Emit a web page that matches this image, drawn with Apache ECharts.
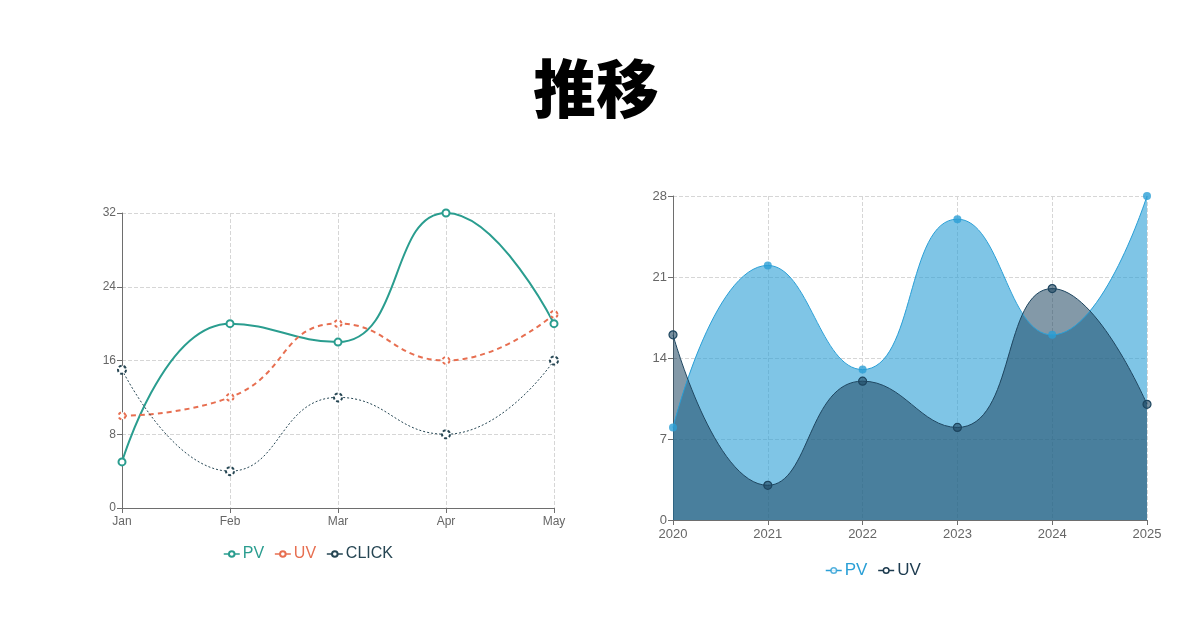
<!DOCTYPE html>
<html>
<head>
<meta charset="utf-8">
<script src="https://cdn.jsdelivr.net/npm/echarts@6/dist/echarts.min.js"></script>
<style>
  body { margin: 0; background: #fff; }
  #title { position: absolute; left: 0; top: 40px; width: 1192px; text-align: center;
           font-family: "Noto Sans CJK JP", sans-serif; font-weight: 900; font-size: 63px; line-height: 90px; color: #000; }
  #left { position: absolute; left: 0; top: 0; width: 600px; height: 630px; }
  #right { position: absolute; left: 600px; top: 0; width: 600px; height: 630px; }
</style>
</head>
<body>
<div id="title">推移</div>
<div id="left"></div>
<div id="right"></div>
<script>
// left chart data
const months = ['Jan', 'Feb', 'Mar', 'Apr', 'May'];
const pvMonth = [5, 20, 18, 32, 20];
const uvMonth = [10, 12, 20, 16, 21];
const clickMonth = [15, 4, 12, 8, 16];

// right chart data
const years = ['2020', '2021', '2022', '2023', '2024', '2025'];
const pvYear = [8, 22, 13, 26, 16, 28];
const uvYear = [16, 3, 12, 8, 20, 10];

const axisGray = '#6e6e6e';
const splitGray = '#d6d6d6';
const font = 'Liberation Sans, Arial, sans-serif';

function catAxis(data, size, margin) {
    return {
        type: 'category',
        data: data,
        boundaryGap: false,
        axisLine: { lineStyle: { color: axisGray } },
        axisTick: { lineStyle: { color: axisGray } },
        axisLabel: { color: '#666', fontSize: size, fontFamily: font, margin: margin },
        splitLine: { show: true, lineStyle: { color: splitGray, type: 'dashed' } }
    };
}
function valAxis(max, interval, size) {
    return {
        type: 'value',
        min: 0,
        max: max,
        interval: interval,
        axisLine: { show: true, lineStyle: { color: axisGray } },
        axisTick: { show: true, lineStyle: { color: axisGray } },
        axisLabel: { color: '#666', fontSize: size, fontFamily: font, margin: 6 },
        splitLine: { lineStyle: { color: splitGray, type: 'dashed' } }
    };
}

// legend entry: solid short line with a small hollow circle, text in series colour.
// emptyCircle series stroke with itemStyle.color, filled ones need a white fill + border
function legendEntry(name, color, hollowSymbol) {
    return {
        name: name,
        itemStyle: hollowSymbol
            ? { color: color, borderColor: color, borderWidth: 1.5, borderType: 'solid' }
            : { color: '#fff', borderColor: color, borderWidth: 1.5, borderType: 'solid' },
        lineStyle: { color: color, type: 'solid', width: 1.5 },
        textStyle: { color: color }
    };
}

let chartL = echarts.init(document.getElementById('left'));
chartL.setOption({
    animation: false,
    grid: { left: 122, top: 213, width: 432, height: 295 },
    legend: {
        left: 218, top: 541,
        itemWidth: 16, itemHeight: 7, itemGap: 10,
        data: [
            legendEntry('PV', '#2a9d8f', true),
            legendEntry('UV', '#e76f51', true),
            legendEntry('CLICK', '#264653', true)
        ],
        textStyle: { fontSize: 16, fontFamily: font, padding: [0, 0, 0, -2] }
    },
    xAxis: catAxis(months, 12, 8),
    yAxis: valAxis(32, 8, 12),
    series: [
        {
            name: 'PV', type: 'line', smooth: true, data: pvMonth,
            color: '#2a9d8f', symbol: 'emptyCircle', symbolSize: 7,
            lineStyle: { width: 2 }, itemStyle: { borderWidth: 2 }
        },
        {
            name: 'UV', type: 'line', smooth: true, data: uvMonth,
            color: '#e76f51', symbol: 'emptyCircle', symbolSize: 7,
            lineStyle: { width: 2, type: [5, 4] }, itemStyle: { borderWidth: 2, borderType: [3, 3] }
        },
        {
            name: 'CLICK', type: 'line', smooth: true, data: clickMonth,
            color: '#264653', symbol: 'emptyCircle', symbolSize: 8,
            lineStyle: { width: 1, type: [2, 2] }, itemStyle: { borderWidth: 1, borderType: [3, 2], borderColor: '#9aa6ab' }
        }
    ]
});

let chartR = echarts.init(document.getElementById('right'));
chartR.setOption({
    animation: false,
    grid: { left: 73, top: 196, width: 474, height: 324 },
    legend: {
        left: 220, top: 557,
        itemWidth: 16, itemHeight: 7, itemGap: 10,
        data: [
            legendEntry('PV', '#2a9fd6', false),
            legendEntry('UV', '#1d3b4f', false)
        ],
        textStyle: { fontSize: 17, fontFamily: font, padding: [0, 0, 0, -2] }
    },
    xAxis: catAxis(years, 13, 8),
    yAxis: valAxis(28, 7, 13),
    series: [
        {
            name: 'PV', type: 'line', smooth: true, data: pvYear,
            color: '#2a9fd6', symbol: 'circle', symbolSize: 8,
            lineStyle: { width: 1 }, areaStyle: { color: '#2a9fd6', opacity: 0.6 },
            itemStyle: { opacity: 0.8 }
        },
        {
            name: 'UV', type: 'line', smooth: true, data: uvYear,
            color: '#1e4660', symbol: 'circle', symbolSize: 8,
            lineStyle: { width: 1, color: '#1e4660' }, areaStyle: { color: '#1e4660', opacity: 0.55 },
            itemStyle: { color: 'rgba(30,70,96,0.6)', borderColor: '#1e4660', borderWidth: 1.2 }
        }
    ]
});
</script>
</body>
</html>
